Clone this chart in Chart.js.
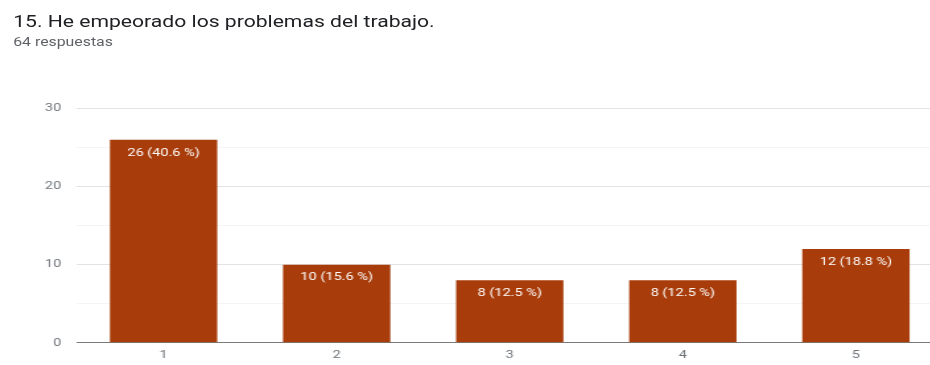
<!DOCTYPE html>
<html lang="es">
<head>
    <meta charset="UTF-8">
    <title>He empeorado los problemas del trabajo</title>
    <script src="https://cdn.jsdelivr.net/npm/chart.js"></script>
    <style>
        body {
            margin: 0;
            width: 930px;
            height: 365px;
            overflow: hidden;
            background: #fff;
            font-family: Roboto, Arial, sans-serif;
        }

        /* the whole card is laid out narrow and widened horizontally */
        .page {
            position: relative;
            width: 705px;
            height: 365px;
            transform: scaleX(1.32);
            transform-origin: 0 0;
        }

        .title {
            position: absolute;
            left: 10px;
            top: 12px;
            font-size: 16px;
            color: #202124;
        }

        .subtitle {
            position: absolute;
            left: 10px;
            top: 35px;
            font-size: 12px;
            color: #5f6368;
        }

        .chart-box {
            position: absolute;
            left: 0;
            top: 90px;
            width: 714px;
            height: 278px;
        }
    </style>
</head>
<body>
    <div class="page">
        <div class="title">15. He empeorado los problemas del trabajo.</div>
        <div class="subtitle">64 respuestas</div>

        <div class="chart-box">
            <canvas id="answersChart"></canvas>
        </div>
    </div>

    <script>
        // Answers per option
        const categories = ['1', '2', '3', '4', '5'];
        const counts = [26, 10, 8, 8, 12];
        const percents = ['40.6', '15.6', '12.5', '12.5', '18.8'];
        const yTicks = [0, 10, 20, 30];

        // Draws "count (pct %)" inside the top of each bar
        const barLabels = {
            id: 'barLabels',
            afterDatasetsDraw(chart) {
                const ctx = chart.ctx;
                const meta = chart.getDatasetMeta(0);
                ctx.save();
                ctx.font = '11px Roboto, Arial, sans-serif';
                ctx.fillStyle = '#ffffff';
                ctx.textAlign = 'center';
                ctx.textBaseline = 'middle';
                meta.data.forEach((bar, i) => {
                    ctx.fillText(counts[i] + ' (' + percents[i] + ' %)', bar.x, bar.y + 13);
                });
                ctx.restore();
            }
        };

        const ctx = document.getElementById('answersChart').getContext('2d');
        new Chart(ctx, {
            type: 'bar',
            data: {
                labels: categories,
                datasets: [{
                    data: counts,
                    backgroundColor: '#a83c0a',
                    barPercentage: 0.62,
                    categoryPercentage: 1.0,
                }],
            },
            options: {
                responsive: true,
                maintainAspectRatio: false,
                animation: false,
                layout: {
                    padding: { left: 22, top: 3, right: 0, bottom: 0 },
                },
                plugins: {
                    legend: { display: false },
                    tooltip: { enabled: false },
                },
                scales: {
                    x: {
                        grid: { display: false, drawTicks: false },
                        border: { display: false },
                        ticks: {
                            color: '#70757a',
                            font: { family: 'Roboto', size: 11 },
                            padding: 6,
                        },
                    },
                    y: {
                        min: 0,
                        max: 30,
                        border: { display: false },
                        grid: {
                            drawTicks: false,
                            color: (c) => {
                                const v = c.tick.value;
                                if (v === 0) return '#7a7a7a';
                                return v % 10 === 0 ? '#e3e3e3' : '#f4f4f4';
                            },
                        },
                        ticks: {
                            stepSize: 5,
                            color: '#70757a',
                            padding: 12,
                            font: { family: 'Roboto', size: 11 },
                            callback: (v) => yTicks.includes(v) ? String(v) : '',
                        },
                    },
                },
            },
            plugins: [barLabels],
        });
    </script>
</body>
</html>
